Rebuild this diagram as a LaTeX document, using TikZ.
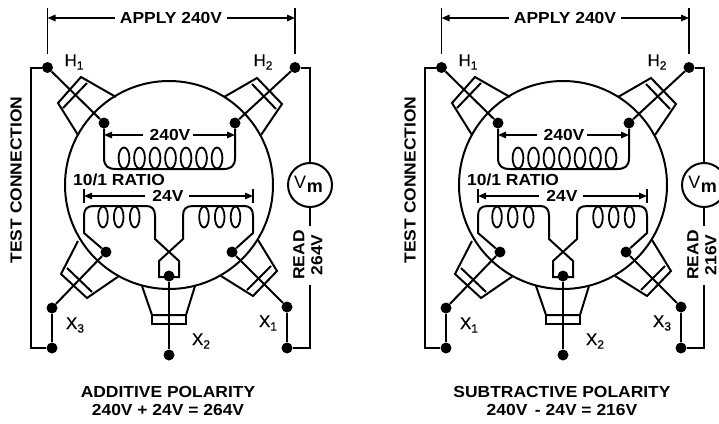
\documentclass[tikz,border=0pt]{standalone}
\usepackage{fontspec}
\setmainfont{Liberation Sans}
\newfontfamily\wfont[FakeStretch=1.09]{Liberation Sans}
\usetikzlibrary{arrows.meta}
\tikzset{
  wire/.style={line width=2pt,line join=miter},
  thinw/.style={line width=1.3pt},
  dimline/.style={line width=1.4pt,{Triangle[length=8pt,width=6.5pt]}-},
  termdot/.style={circle,fill=black,inner sep=0pt,minimum size=11pt},
  lab/.style={font=\wfont\bfseries\fontsize{16}{18}\selectfont,inner sep=0pt,align=center},
  sym/.style={font=\fontsize{17}{18}\selectfont\addfontfeature{FakeBold=0.6},inner sep=0pt},
  coilloop/.style={line width=1.8pt},
}
\newcommand{\mysub}[2]{#1\raisebox{-3.5pt}{\fontsize{12}{13}\selectfont #2}}
\newcommand{\xpanel}[7]{%
\begin{scope}[xshift=#1pt,name prefix=#2-]
  % terminals
  \node[termdot] (H1) at (47.5,67.5) {};
  \node[termdot] (H2) at (295,67.5) {};
  \node[termdot] (ih1) at (104,123) {};
  \node[termdot] (ih2) at (235,123) {};
  \node[termdot] (ix3) at (106,252) {};
  \node[termdot] (ix1) at (232,252) {};
  \node[termdot] (ix2) at (169,276) {};
  \node[termdot] (X3) at (52,308) {};
  \node[termdot] (X3b) at (52,348) {};
  \node[termdot] (X1) at (287,307) {};
  \node[termdot] (X1b) at (287,348) {};
  \node[termdot] (X2) at (169,355) {};
  % tank
  \node[draw,circle,line width=2pt,minimum size=208pt,inner sep=0pt] (tank) at (169,185) {};
  % bushings
  \draw[wire] (116,97) -- (81,77) -- (58,103) -- (78,135);
  \draw[wire] (87,83) -- (63,108);
  \draw[wire] (224,97) -- (257,78) -- (282,104) -- (261,135);
  \draw[wire] (252,84) -- (276,109);
  \draw[wire] (78,241) -- (61,274) -- (87,298) -- (119,276);
  \draw[wire] (67,268) -- (92,292);
  \draw[wire] (258,240) -- (277,271) -- (253,296) -- (221,276);
  \draw[wire] (271,266) -- (247,290);
  \draw[wire] (142,286) -- (152,315) -- (186,315) -- (195,286);
  \draw[wire] (152,315) rectangle (186,324);
  % terminal leads
  \draw[wire] (H1) -- (ih1);
  \draw[wire] (H2) -- (ih2);
  \draw[wire] (ix3) -- (X3);
  \draw[wire] (ix1) -- (X1);
  \draw[wire] (ix2) -- (X2);
  \draw[wire] (X3) -- (X3b);
  \draw[wire] (X1) -- (X1b);
  % test connection
  \draw[wire] (H1) -- (30.5,67.5) -- (30.5,348) -- (X3b);
  \node[draw,circle,line width=2pt,minimum size=44pt,inner sep=0pt] (vm) at (310,185) {};
  \node[anchor=base,inner sep=0pt,font=\fontsize{18}{18}\selectfont] at (308.5,188) {V\kern0.5pt\raisebox{-4pt}{\bfseries m}};
  \draw[wire] (H2) -- (310,67.5) -- (vm.north);
  \coordinate (rd1) at (310,226);
  \coordinate (rd2) at (310,285);
  \draw[wire] (vm.south) -- (rd1);
  \draw[wire] (rd2) -- (310,348) -- (X1b);
  \node[lab,rotate=90] (read) at (308,255) {READ\\#5};
  % apply dimension
  \coordinate (t1) at (47.5,8); \coordinate (t2) at (295,8);
  \coordinate (a1) at (47.5,18); \coordinate (a2) at (295,18);
  \draw[thinw] (t1) -- (47.5,54);
  \draw[thinw] (t2) -- (295,54);
  \node[lab] (apply) at (171,18) {APPLY 240V};
  \draw[dimline] (a1) -- (115,18);
  \draw[dimline] (a2) -- (227,18);
  % 240V winding
  \node[lab] (v240) at (170,135) {240V};
  \draw[dimline] (104,135) -- (143,135);
  \draw[dimline] (235,135) -- (193,135);
  \draw[wire] (ih1) -- (104,158) .. controls (104,166) and (108,169) .. (116,169) -- (223,169) .. controls (231,169) and (235,166) .. (235,158) -- (ih2);
  \foreach \c in {124,139.5,155,170.5,186,201.5,217}
    \draw[coilloop] (\c,158) ellipse [x radius=5.4pt,y radius=10.5pt];
  % ratio
  \node[lab,anchor=west] at (73,180) {10/1 RATIO};
  % 24V
  \node[lab] (v24) at (168,196) {24V};
  \draw[thinw] (84,189) -- (84,203);
  \draw[thinw] (253,189) -- (253,203);
  \draw[dimline] (84,196) -- (145,196);
  \draw[dimline] (253,196) -- (189,196);
  % secondary windings
  \draw[wire] (ix3) -- (84,233) -- (84,216) .. controls (84,209) and (87,206) .. (94,206) -- (146,206) .. controls (152,206) and (155,209) .. (155,216) -- (155,239) -- (179,261) -- (179,277) -- (159,277) -- (159,261) -- (183,239) -- (183,216) .. controls (183,209) and (186,206) .. (193,206) -- (244,206) .. controls (250,206) and (253,209) .. (253,216) -- (253,233) -- (ix1);
  \foreach \c in {103,118.7,134.7,204,219.7,235.5}
    \draw[coilloop] (\c,217) ellipse [x radius=4.8pt,y radius=10.5pt];
  % labels
  \node[sym] at (74,62) {\mysub{H}{1}};
  \node[sym] at (263,62) {\mysub{H}{2}};
  \node[sym] at (75,325) {\mysub{X}{#3}};
  \node[sym] at (268,323) {\mysub{X}{#4}};
  \node[sym] at (201,341) {\mysub{X}{2}};
  \node[lab,rotate=90] at (16,180) {TEST CONNECTION};
  \node[lab] at (168,392) {#6};
  \node[lab] at (168,410) {#7};
\end{scope}}
\begin{document}
\begin{tikzpicture}[x=1pt,y=-1pt]
\useasboundingbox (0,0) rectangle (719,423);
\clip (0,0) rectangle (719,423);
\xpanel{0}{L}{3}{1}{264V}{ADDITIVE POLARITY}{240V + 24V = 264V}
\xpanel{394}{R}{1}{3}{216V}{SUBTRACTIVE POLARITY}{240V\, - 24V = 216V}
\end{tikzpicture}
\end{document}
